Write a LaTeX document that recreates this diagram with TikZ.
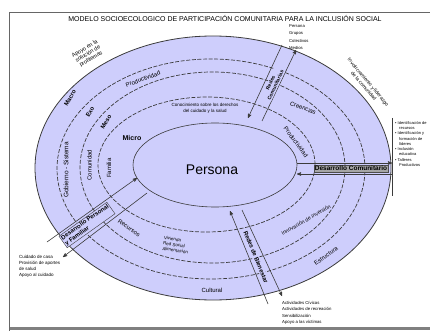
\documentclass[tikz,border=0pt]{standalone}
\usepackage{fontspec}
\setmainfont{Liberation Sans}
\usepackage{tikz}
\usetikzlibrary{arrows,shapes.geometric}
\definecolor{clav}{RGB}{206,206,252}
\definecolor{cline}{RGB}{60,60,60}
\newcommand{\setfs}[2]{\fontsize{#1}{#2}\selectfont}

\begin{document}
\begin{tikzpicture}[x=1pt,y=-1pt,>=stealth',
  outer node/.style={ellipse,draw=cline,fill=clav,line width=0.8pt,inner sep=0pt},
  ring node/.style={ellipse,draw=cline,dash pattern=on 4pt off 1.6pt,line width=0.7pt,inner sep=0pt},
  ring label/.style={font=\bfseries\setfs{6}{7}},
  small label/.style={font=\setfs{6}{7}},
  list label/.style={font=\setfs{4.2}{5.3},align=left,anchor=north west,inner sep=0pt},
  band line/.style={draw=cline,line width=0.6pt},
  band label/.style={fill=clav,font=\bfseries\setfs{6}{6.5},inner sep=1pt,align=center}]
  \useasboundingbox (0,0) rectangle (430,331);
  % frame and title
  \draw[line width=1.4pt,black!60] (9.5,331) -- (9.5,12.5) -- (430,12.5);
  \draw[line width=3pt,black!50] (9.5,328.5) -- (430,328.5);
  \node[font=\setfs{7}{8}] (title) at (225,19) {MODELO SOCIOECOLOGICO DE PARTICIPACIÓN COMUNITARIA PARA LA INCLUSIÓN SOCIAL};

  % rings
  \node[outer node,minimum width=356pt,minimum height=264pt] (macro) at (213,168) {};
  \node[ring node,minimum width=308pt,minimum height=220pt] (exo) at (211,169) {};
  \node[ring node,minimum width=265pt,minimum height=191pt] (meso) at (212.5,167.5) {};
  \node[ring node,minimum width=217pt,minimum height=135pt] (micro) at (206.5,164.5) {};
  \node[outer node,line width=0.6pt,minimum width=164pt,minimum height=84pt] (persona) at (215,165) {};
  \node[font=\setfs{14}{16}] (personatxt) at (212,170) {Persona};

  % ring names
  \node[ring label,rotate=60] (lmacro) at (70,98) {Macro};
  \node[ring label,rotate=60] (lexo) at (90,112) {Exo};
  \node[ring label,rotate=60] (lmeso) at (106,122) {Meso};
  \node[ring label,font=\bfseries\setfs{7}{8}] (lmicro) at (132,138) {Micro};

  % texts inside the rings
  \node[small label,rotate=90,font=\setfs{6.5}{7}] (gobierno) at (66,170) {Gobierno - Sistema};
  \node[small label,rotate=90] (comunidad) at (89.5,165) {Comunidad};
  \node[small label,rotate=90] (familia) at (109,168) {Familia};
  \node[small label,rotate=20] (prod1) at (143,79) {Productividad};
  \node[small label,rotate=-20] (creencias) at (303,108) {Creencias};
  \node[small label,rotate=-53] (prod2) at (296,142) {Productividad};
  \node[small label,rotate=-35] (recursos) at (129,228) {Recursos};
  \node[small label,rotate=30,font=\setfs{5.3}{6}] (innov) at (306,220) {Innovación de inversión};
  \node[small label,rotate=35] (estructura) at (326,256) {Estructura};
  \node[small label] (cultural) at (212,290) {Cultural};
  \node[small label,font=\setfs{4.5}{5.8},align=center] (conoc) at (205,108) {Conocimiento sobre los derechos\\del cuidado y la salud};
  \node[small label,font=\setfs{4.5}{5.5},align=left,rotate=-8] (vivienda) at (176,245) {Vivienda\\Red Social\\Alimentación};

  % Desarrollo Personal y Familiar
  \coordinate (dpout1) at (47,242);
  \coordinate (dpin1) at (137,178);
  \coordinate (dpout2) at (63,257);
  \coordinate (dpin2) at (147,193);
  \draw[band line,->] (dpout1) -- (dpin1);
  \draw[band line,->] (dpin2) -- (dpout2);
  \node[band label,draw=cline,align=left,rotate=35.4] (dplbl) at (87,225) {Desarrollo Personal\\y Familiar};
  \node[list label,font=\setfs{4.5}{6}] (dplist) at (19,255) {Cuidado de casa\\Provisión de aportes\\de salud\\Apoyo al cuidado};

  % Redes Comunitarias
  \coordinate (rcin1) at (248,118);
  \coordinate (rcout1) at (282,45);
  \coordinate (rcin2) at (262,121);
  \coordinate (rcout2) at (296,50);
  \draw[band line,->] (rcout1) -- (rcin1);
  \draw[band line,->] (rcin2) -- (rcout2);
  \node[band label,rotate=65,font=\bfseries\setfs{5}{5.5}] (rclbl) at (273,84) {Redes\\Comunitarias};
  \node[list label,font=\setfs{4.2}{7.5}] (rclist) at (289,24) {Persona\\Grupos\\Colectivos\\Medios};

  % Desarrollo Comunitario
  \coordinate (dcin1) at (297,163);
  \coordinate (dcout1) at (392,163);
  \coordinate (dcin2) at (297,174);
  \coordinate (dcout2) at (392,174);
  \coordinate (brtop) at (392,118);
  \coordinate (brbot) at (392,196);
  \draw[band line,->] (dcin1) -- (dcout1);
  \draw[band line,->] (dcout2) -- (dcin2);
  \draw[band line] (brtop) -- (brbot);
  \node[band label,fill=black!35,draw=black!70,font=\bfseries\setfs{6.5}{7}] (dclbl) at (351,168.5) {Desarrollo Comunitario};
  \node[list label,font=\setfs{4}{5.3}] (dclist) at (395,121) {• Identificación de\\\hspace*{4pt}recursos\\• Identificación y\\\hspace*{4pt}formación de\\\hspace*{4pt}líderes\\• Inclusión\\\hspace*{4pt}educativa\\• Talleres\\\hspace*{4pt}Productivos};

  % Redes de Bienestar
  \coordinate (rbout1) at (268,304);
  \coordinate (rbin1) at (230,211);
  \coordinate (rbin2) at (242,210);
  \coordinate (rbout2) at (282,296);
  \draw[band line,->] (rbout1) -- (rbin1);
  \draw[band line,->] (rbin2) -- (rbout2);
  \node[band label,rotate=-67.8] (rblbl) at (256,257) {Redes de Bienestar};
  \node[list label,font=\setfs{4.3}{6.5}] (rblist) at (282,301) {Actividades Cívicas\\Actividades de recreación\\Sensibilización\\Apoyo a las víctimas};

  % texts outside the rings
  \node[font=\setfs{5.5}{6},align=center,rotate=31] (apoyo) at (88,54) {Apoyo en la\\solución de\\problemas};
  \node[font=\setfs{5}{6},align=center,rotate=-50] (involuc) at (366,84) {Involucramiento y liderazgo\\de la comunidad};
\end{tikzpicture}
\end{document}
